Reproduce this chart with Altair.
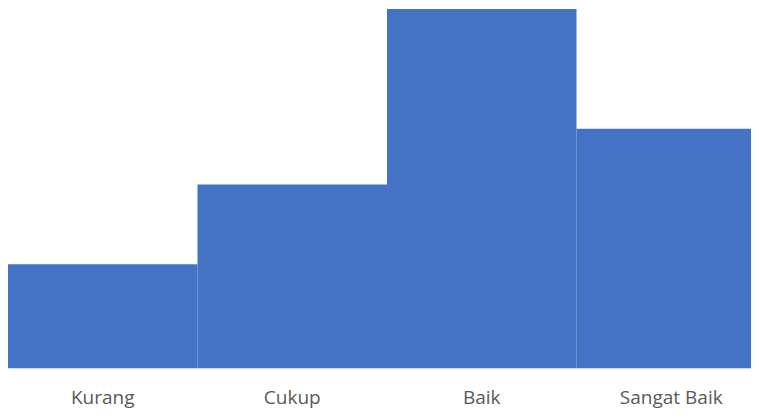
import altair as alt
import pandas as pd

categories = ["Kurang", "Cukup", "Baik", "Sangat Baik"]
values = [13, 23, 45, 30]

df = pd.DataFrame({"kategori": categories, "nilai": values})

chart = alt.Chart(df).mark_bar(color="#4472C4").encode(
    x=alt.X("kategori:N", sort=categories,
            scale=alt.Scale(paddingInner=0, paddingOuter=0, range=[0, 758]),
            axis=alt.Axis(title=None, labelAngle=0, ticks=False,
                          domainColor="#D9D9D9", domainWidth=1.5,
                          labelColor="#595959", labelFontSize=19,
                          labelFont="Open Sans", labelBaseline="alphabetic",
                          labelPadding=35)),
    y=alt.Y("nilai:Q", scale=alt.Scale(domain=[0, 45], nice=False),
            axis=None),
).properties(
    width=743, height=359,
    autosize=alt.AutoSizeParams(type="none"),
    padding={"left": 0, "top": 1, "right": 0, "bottom": 41},
).configure_view(stroke=None)

chart.save("out.html", embed_options={"renderer": "svg", "actions": False})
